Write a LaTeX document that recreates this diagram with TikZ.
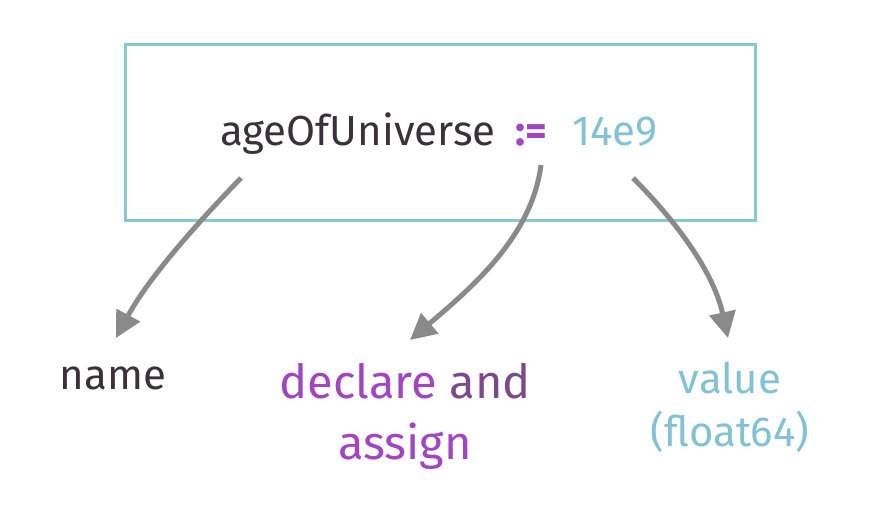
\documentclass[tikz,border=0pt]{standalone}
\usepackage{fontspec}
\setmainfont{Fira Sans}
\usetikzlibrary{arrows.meta}
\definecolor{boxblue}{HTML}{88C8D4}
\definecolor{inkdark}{HTML}{3A3238}
\definecolor{purp}{HTML}{A046C0}
\definecolor{darkpurp}{HTML}{7A4A8A}
\definecolor{valblue}{HTML}{82C2D2}
\definecolor{arrowgray}{HTML}{8A8A8A}
\tikzset{
  codebox/.style={draw=boxblue, line width=3pt},
  pointer/.style={draw=arrowgray, line width=5pt, -{Triangle[length=26pt,width=26pt]}},
  lbl/.style={inner sep=0pt, font=\fontsize{42}{46}\selectfont, align=center},
  biglbl/.style={inner sep=0pt, font=\fontsize{47}{50}\selectfont, align=center},
  codetxt/.style={inner sep=0pt, font=\fontsize{42}{46}\selectfont}
}
\begin{document}
\begin{tikzpicture}[x=1pt,y=-1pt]
\useasboundingbox[fill=white] (0,0) rectangle (880,528);
\draw[codebox] (125,44) rectangle (755,220);
\node[codetxt, anchor=base west, text=inkdark] (var) at (220,145) {ageOfUniverse};
\node[codetxt, anchor=base west, text=purp] (op) at (515,145) {\bfseries :=};
\node[codetxt, anchor=base west, text=valblue] (val) at (572,145) {14e9};
\coordinate (s1) at (241,178);
\coordinate (s2) at (541,165);
\coordinate (s3) at (633,178);
\coordinate (t1) at (116,338);
\coordinate (t2) at (410,340);
\coordinate (t3) at (728,338);
\draw[pointer] (s1) .. controls (205,215) and (150,275) .. (t1);
\draw[pointer] (s2) .. controls (532,235) and (475,285) .. (t2);
\draw[pointer] (s3) .. controls (665,210) and (712,265) .. (t3);
\node[lbl, text=inkdark] (name) at (113,378) {name};
\node[biglbl] (decl) at (405,381) {\textcolor{purp}{declare} \textcolor{darkpurp}{and}};
\node[biglbl, text=purp] (assign) at (405,446) {assign};
\node[lbl, text=valblue] (value) at (730,378) {value};
\node[lbl, text=valblue] (type) at (730,432) {(float64)};
\end{tikzpicture}
\end{document}
